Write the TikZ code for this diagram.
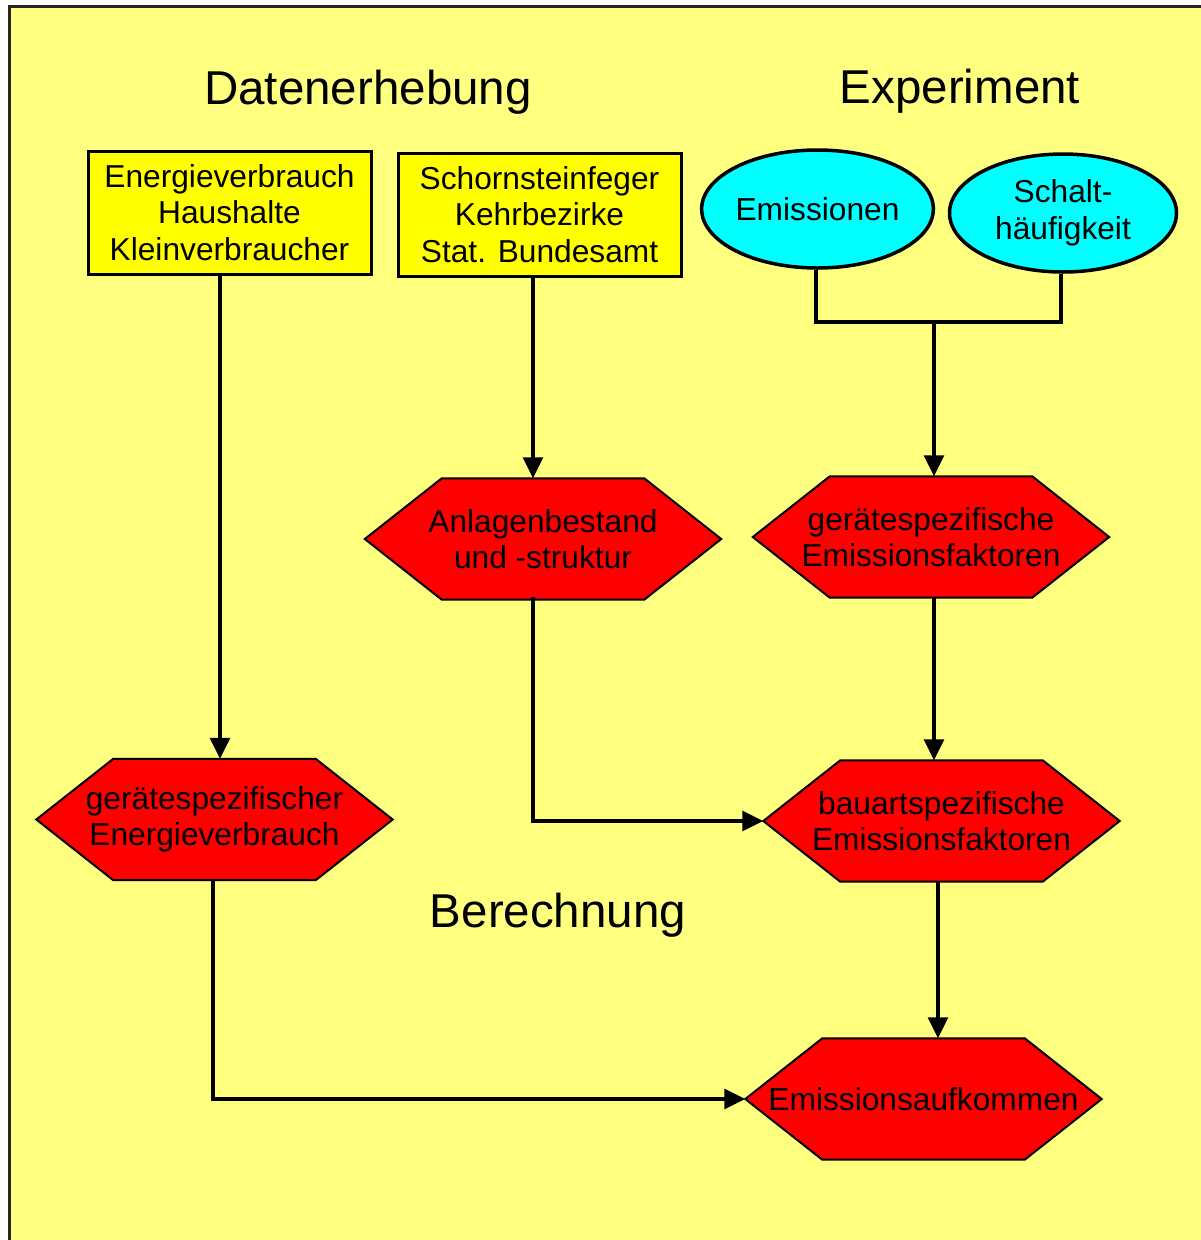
\documentclass[tikz,border=0pt]{standalone}
\usepackage{fontspec}
\setmainfont{Liberation Sans}
\usetikzlibrary{arrows.meta,shapes.geometric}
\pgfdeclarelayer{bgA}\pgfdeclarelayer{bgB}\pgfsetlayers{bgA,bgB,main}
\definecolor{paper}{HTML}{FFFF80}
\definecolor{boxyellow}{HTML}{FFFF00}
\definecolor{hexred}{HTML}{FF0000}
\definecolor{ellcyan}{HTML}{00FFFF}
\tikzset{
  txt/.style={font=\fontsize{31.7}{36.5}\selectfont, align=center, text=black},
  titletxt/.style={font=\fontsize{47.5}{55}\selectfont, text=black, inner sep=0pt},
  infobox/.style={txt, draw=black, line width=3pt, fill=boxyellow, minimum width=283pt, minimum height=123pt, inner sep=0pt},
  ellnode/.style={txt, shape=ellipse, draw=black, line width=3.5pt, fill=ellcyan, minimum width=227pt, minimum height=118pt, inner sep=0pt},
  hexnode/.style={txt, minimum width=356pt, minimum height=121pt, inner sep=0pt},
  hexshape/.style={draw=black, line width=2pt, fill=hexred, line join=miter},
  conn/.style={draw=black, line width=3.2pt},
  arr/.style={conn, -{Triangle[length=21pt,width=20pt]}}
}
\begin{document}
\begin{tikzpicture}[x=1pt,y=-1pt]
\useasboundingbox (0,0) rectangle (1201,1240);
\clip (0,0) rectangle (1201,1240);
\begin{pgfonlayer}{bgA}
  \fill[white] (0,0) rectangle (1201,1240);
  \draw[line width=3pt, draw=black!85, fill=paper] (9.5,6.5) rectangle (1240,1280);
\end{pgfonlayer}

% titles
\node[titletxt] (t1) at (368,92) {Datenerhebung};
\node[titletxt] (t2) at (960,91) {Experiment};
\node[titletxt] (t3) at (558,915) {Berechnung};

% sources
\node[infobox] (b1) at (229.5,212.5) {Energieverbrauch\\Haushalte\\Kleinverbraucher};
\node[infobox] (b2) at (539.5,214.5) {Schornsteinfeger\\Kehrbezirke\\Stat. Bundesamt};
\node[ellnode] (e1) at (817.5,209) {Emissionen};
\node[ellnode] (e2) at (1063,213) {Schalt-\\häufigkeit};

% hexagons
\node[hexnode] (h1) at (543,539) {Anlagenbestand\\und -struktur};
\node[hexnode] (h2) at (931,537) {gerätespezifische\\Emissionsfaktoren};
\node[hexnode] (h3) at (941.5,821) {bauartspezifische\\Emissionsfaktoren};
\node[hexnode] (h4) at (214.5,819.5) {gerätespezifischer\\Energieverbrauch};
\node[hexnode] (h5) at (923.5,1099) {Emissionsaufkommen};

\begin{pgfonlayer}{bgB}
  \foreach \h in {h1,h2,h3,h4,h5}{
    \draw[hexshape] (\h.west) -- ([xshift=77pt]\h.north west) -- ([xshift=-77pt]\h.north east)
      -- (\h.east) -- ([xshift=-77pt]\h.south east) -- ([xshift=77pt]\h.south west) -- cycle;
  }
\end{pgfonlayer}

% connectors
\draw[arr] ([xshift=-9.5pt]b1.south) -- ([xshift=-9.5pt]b1.south |- h4.north);
\draw[arr] ([xshift=-6.5pt]b2.south) -- ([xshift=-6.5pt]b2.south |- h1.north);
\coordinate (j) at (934,322);
\draw[conn] ([xshift=-1.5pt]e1.south) |- ([xshift=-2pt]e2.south |- j) -- ([xshift=-2pt]e2.south);
\draw[arr] (j) -- (j |- h2.north);
\draw[arr] ([xshift=3pt]h2.south) -- ([xshift=3pt]h2.south |- h3.north);
\draw[arr] ([xshift=-10pt,yshift=3pt]h1.south) |- (h3.west);
\draw[arr] ([xshift=-3.5pt]h3.south) -- ([xshift=-3.5pt]h3.south |- h5.north);
\draw[arr] ([xshift=-1.5pt]h4.south) |- (h5.west);
\end{tikzpicture}
\end{document}
